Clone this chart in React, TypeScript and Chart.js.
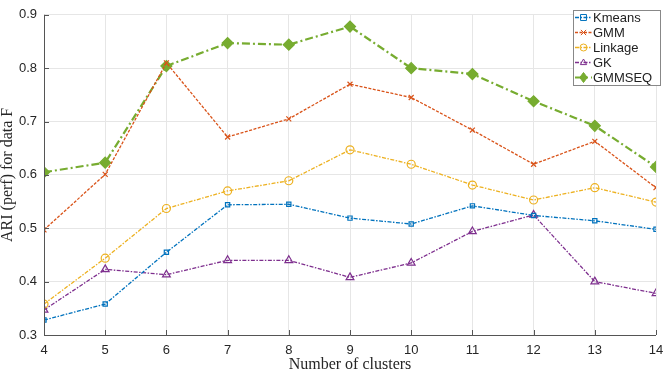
import React, { useEffect, useRef } from "react";
import { Chart, registerables } from "chart.js";

Chart.register(...registerables);

const clusters = [4, 5, 6, 7, 8, 9, 10, 11, 12, 13, 14];
const kmeans = [0.328, 0.358, 0.455, 0.544, 0.545, 0.519, 0.508, 0.542, 0.524, 0.514, 0.498];
const gmm = [0.497, 0.601, 0.810, 0.671, 0.705, 0.770, 0.745, 0.684, 0.620, 0.663, 0.576];
const linkage = [0.358, 0.444, 0.537, 0.570, 0.589, 0.647, 0.620, 0.581, 0.553, 0.576, 0.549];
const gk = [0.347, 0.423, 0.413, 0.440, 0.440, 0.408, 0.435, 0.494, 0.525, 0.400, 0.378];
const gmmseq = [0.605, 0.623, 0.804, 0.847, 0.844, 0.878, 0.800, 0.789, 0.738, 0.692, 0.615];
const seriesNames = ["Kmeans", "GMM", "Linkage", "GK", "GMMSEQ"];
const yTicks = [0.3, 0.4, 0.5, 0.6, 0.7, 0.8, 0.9];

const SANS = "'Liberation Sans', Arial, sans-serif";
const SERIF = "'Liberation Serif', 'DejaVu Serif', serif";

function drawMarker(ctx: any, style: string, x: number, y: number, r: number, stroke: string, fill: string) {
  ctx.save();
  ctx.setLineDash([]);
  ctx.strokeStyle = stroke;
  ctx.fillStyle = fill;
  ctx.lineWidth = 1;
  ctx.beginPath();
  if (style === "rect") {
    const s = r * 0.85;
    ctx.rect(x - s, y - s, 2 * s, 2 * s);
    ctx.stroke();
  } else if (style === "crossRot") {
    const s = r * 0.75;
    ctx.moveTo(x - s, y - s);
    ctx.lineTo(x + s, y + s);
    ctx.moveTo(x + s, y - s);
    ctx.lineTo(x - s, y + s);
    ctx.stroke();
  } else if (style === "circle") {
    ctx.arc(x, y, r, 0, Math.PI * 2);
    ctx.stroke();
  } else if (style === "triangle") {
    ctx.moveTo(x, y - r);
    ctx.lineTo(x + r * 0.9, y + r * 0.6);
    ctx.lineTo(x - r * 0.9, y + r * 0.6);
    ctx.closePath();
    ctx.stroke();
  } else if (style === "rectRot") {
    ctx.moveTo(x, y - r);
    ctx.lineTo(x + r * 0.75, y);
    ctx.lineTo(x, y + r);
    ctx.lineTo(x - r * 0.75, y);
    ctx.closePath();
    ctx.fill();
    ctx.stroke();
  }
  ctx.restore();
}

const legendPlugin = {
  id: "boxLegend",
  afterDraw(chart: any) {
    const ctx = chart.ctx;
    const x0 = 573, y0 = 10, w = 87, h = 75;
    ctx.save();
    ctx.fillStyle = "#ffffff";
    ctx.fillRect(x0, y0, w, h);
    ctx.strokeStyle = "#888888";
    ctx.lineWidth = 1;
    ctx.strokeRect(x0 + 0.5, y0 + 0.5, w, h);
    chart.data.datasets.forEach((ds: any, i: number) => {
      const y = y0 + 7.5 + i * 15;
      ctx.save();
      ctx.strokeStyle = ds.borderColor;
      ctx.lineWidth = ds.borderWidth;
      ctx.setLineDash(ds.borderDash || []);
      ctx.beginPath();
      ctx.moveTo(x0 + 2, y);
      ctx.lineTo(x0 + 19, y);
      ctx.stroke();
      ctx.restore();
      drawMarker(ctx, ds.pointStyle, x0 + 10.5, y, ds.pointStyle === "rectRot" ? 5 : 3.5, ds.pointBorderColor, ds.pointBackgroundColor);
      ctx.fillStyle = "#222222";
      ctx.font = "13px " + SANS;
      ctx.textBaseline = "middle";
      ctx.textAlign = "left";
      ctx.fillText(ds.label, x0 + 20, y + 1);
    });
    ctx.restore();
  },
};

const axisLinePlugin = {
  id: "axisLines",
  afterDraw(chart: any) {
    const ctx = chart.ctx;
    const a = chart.chartArea;
    const xs = chart.scales.x;
    const ys = chart.scales.y;
    ctx.save();
    ctx.strokeStyle = "#555555";
    ctx.lineWidth = 1;
    ctx.beginPath();
    ctx.moveTo(a.left + 0.5, a.top);
    ctx.lineTo(a.left + 0.5, a.bottom + 0.5);
    ctx.lineTo(a.right, a.bottom + 0.5);
    clusters.forEach((c) => {
      const px = Math.round(xs.getPixelForValue(c)) + 0.5;
      ctx.moveTo(px, a.bottom);
      ctx.lineTo(px, a.bottom - 5);
    });
    yTicks.forEach((t) => {
      const py = Math.round(ys.getPixelForValue(t)) + 0.5;
      ctx.moveTo(a.left, py);
      ctx.lineTo(a.left + 5, py);
    });
    ctx.stroke();
    ctx.restore();
  },
};

function mk(label: string, data: number[], color: string, style: string, radius: number, width: number, dash: number[], fill: string) {
  return {
    label,
    data: data.map((v, i) => ({ x: clusters[i], y: v })),
    borderColor: color,
    borderWidth: width,
    borderDash: dash,
    pointStyle: style,
    pointRadius: radius,
    pointBorderColor: color,
    pointBackgroundColor: fill,
    pointBorderWidth: 1.2,
    fill: false,
    tension: 0,
  };
}

export default function App() {
  const ref = useRef<HTMLCanvasElement>(null);
  useEffect(() => {
    if (!ref.current) return;
    const chart = new Chart(ref.current, {
      type: "line",
      data: {
        datasets: [
          mk(seriesNames[0], kmeans, "#0072BD", "rect", 3, 1.3, [4, 1.5, 1.5, 1.5], "rgba(0,0,0,0)"),
          mk(seriesNames[1], gmm, "#D95319", "crossRot", 3.5, 1.3, [3, 1.5], "rgba(0,0,0,0)"),
          mk(seriesNames[2], linkage, "#EDB120", "circle", 4, 1.3, [4, 1.5, 1.5, 1.5], "rgba(0,0,0,0)"),
          mk(seriesNames[3], gk, "#7E2F8E", "triangle", 4.5, 1.3, [4, 1.5, 1.5, 1.5], "rgba(0,0,0,0)"),
          mk(seriesNames[4], gmmseq, "#77AC30", "rectRot", 5.5, 2.2, [8, 3, 2, 3], "#77AC30"),
        ] as any,
      },
      options: {
        animation: false,
        responsive: true,
        maintainAspectRatio: false,
        layout: { padding: { top: 5, right: 0, left: 0, bottom: 0 } },
        plugins: { legend: { display: false }, tooltip: { enabled: false } },
        scales: {
          x: {
            type: "linear",
            min: 4,
            max: 14,
            afterBuildTicks: (s: any) => {
              s.ticks = clusters.map((v) => ({ value: v }));
            },
            afterFit: (s: any) => {
              s.height = 34;
              s.paddingRight = 8;
              s.paddingLeft = 0;
            },
            grid: { color: "#e6e6e6", drawTicks: false },
            border: { display: false },
            ticks: { color: "#262626", font: { size: 13, family: SANS }, padding: 8, maxRotation: 0 },
            title: {
              display: true,
              text: "Number of clusters",
              color: "#262626",
              font: { size: 16, family: SERIF, lineHeight: 1 },
              padding: { top: 0, bottom: -4 },
            },
          },
          y: {
            min: 0.3,
            max: 0.9,
            afterBuildTicks: (s: any) => {
              s.ticks = yTicks.map((v) => ({ value: v }));
            },
            afterFit: (s: any) => {
              s.width = 44;
            },
            grid: { color: "#e6e6e6", drawTicks: false },
            border: { display: false },
            ticks: {
              color: "#262626",
              font: { size: 13, family: SANS },
              padding: 7,
              callback: (v: any) => Number(v).toFixed(1),
            },
            title: {
              display: true,
              text: "ARI (perf) for data F",
              color: "#262626",
              font: { size: 16, family: SERIF, lineHeight: 1 },
              padding: { top: 0, bottom: 2 },
            },
          },
        },
      } as any,
      plugins: [axisLinePlugin, legendPlugin],
    });
    return () => chart.destroy();
  }, []);
  return (
    <div style={{ position: "fixed", left: 0, top: 0, width: 664, height: 369, background: "#fff" }}>
      <canvas ref={ref} />
    </div>
  );
}
